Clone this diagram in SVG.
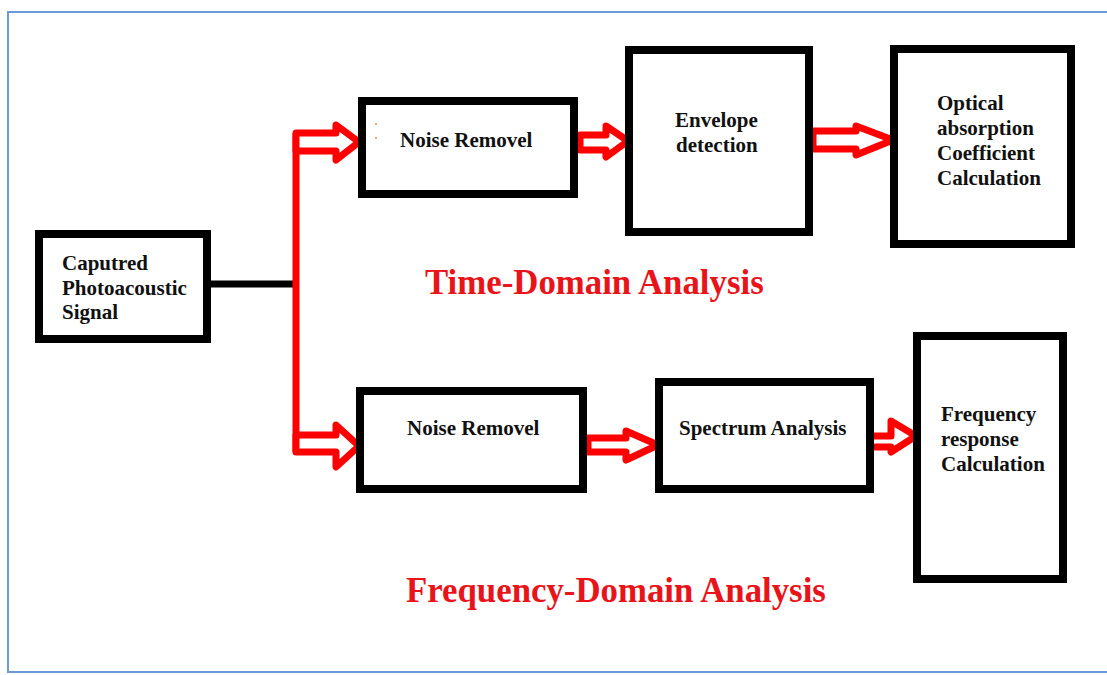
<svg xmlns="http://www.w3.org/2000/svg" width="1107" height="675" viewBox="0 0 1107 675">
<style>
.box{fill:#fff;stroke:#000;stroke-width:8}
.t{font-family:"Liberation Serif","Times New Roman",serif;font-weight:bold;font-size:21px;fill:#111}
.big{font-family:"Liberation Serif","Times New Roman",serif;font-weight:bold;font-size:34.8px;fill:#e8141a}
.arr{fill:#fff;stroke:#f00;stroke-width:7;stroke-linejoin:round}
</style>
<rect width="1107" height="675" fill="#fff"/>
<rect x="8" y="12" width="1112" height="660" fill="none" stroke="#6a9ad8" stroke-width="2"/>
<g id="connectors">
<line x1="211" y1="284" x2="296" y2="284" stroke="#000" stroke-width="7"/>
<path d="M296,133 L296,452" fill="none" stroke="#f00" stroke-width="7" stroke-linejoin="round"/>
<path class="arr" d="M296,133 L336,133 L336,125 L359,142 L336,160 L336,151 L296,151 Z"/>
<path class="arr" d="M296,435 L336,435 L336,425 L359,446 L336,467 L336,452 L296,452 Z"/>
<path class="arr" d="M580,135 L606,135 L606,126 L628,141 L606,157 L606,150 L580,150 Z"/>
<path class="arr" d="M813,131 L856,131 L856,126 L893,140 L856,155 L856,149 L813,149 Z"/>
<path class="arr" d="M588,438 L626,438 L626,431 L658,445 L626,460 L626,452 L588,452 Z"/>
<path class="arr" d="M866,436 L891,436 L891,421 L916,436 L891,452 L891,447 L866,447 Z"/>
</g>
<g id="n-captured">
<rect class="box" x="39" y="234" width="168" height="105"/>
<text class="t" x="62" y="270">Caputred</text>
<text class="t" x="62" y="295">Photoacoustic</text>
<text class="t" x="62" y="319">Signal</text>
</g>
<g id="n-noise-top">
<rect class="box" x="362" y="101" width="212" height="93"/>
<circle cx="376" cy="124" r="1" fill="#e08a50"/>
<circle cx="376" cy="138" r="1" fill="#e08a50"/>
<text class="t" x="400" y="147">Noise Removel</text>
</g>
<g id="n-envelope">
<rect class="box" x="629" y="50" width="180" height="182"/>
<text class="t" x="675" y="127">Envelope</text>
<text class="t" x="676" y="152">detection</text>
</g>
<g id="n-optical">
<rect class="box" x="894" y="49" width="177" height="195"/>
<text class="t" x="937" y="110">Optical</text>
<text class="t" x="937" y="135">absorption</text>
<text class="t" x="937" y="160">Coefficient</text>
<text class="t" x="937" y="185">Calculation</text>
</g>
<g id="n-noise-bottom">
<rect class="box" x="360" y="391" width="223" height="98"/>
<text class="t" x="407" y="435">Noise Removel</text>
</g>
<g id="n-spectrum">
<rect class="box" x="659" y="382" width="211" height="107"/>
<text class="t" x="679" y="435">Spectrum Analysis</text>
</g>
<g id="n-frequency">
<rect class="box" x="917" y="336" width="146" height="243"/>
<text class="t" x="941" y="421">Frequency</text>
<text class="t" x="941" y="446">response</text>
<text class="t" x="941" y="471">Calculation</text>
</g>
<text class="big" x="425" y="294">Time-Domain Analysis</text>
<text class="big" x="406" y="602">Frequency-Domain Analysis</text>
</svg>
